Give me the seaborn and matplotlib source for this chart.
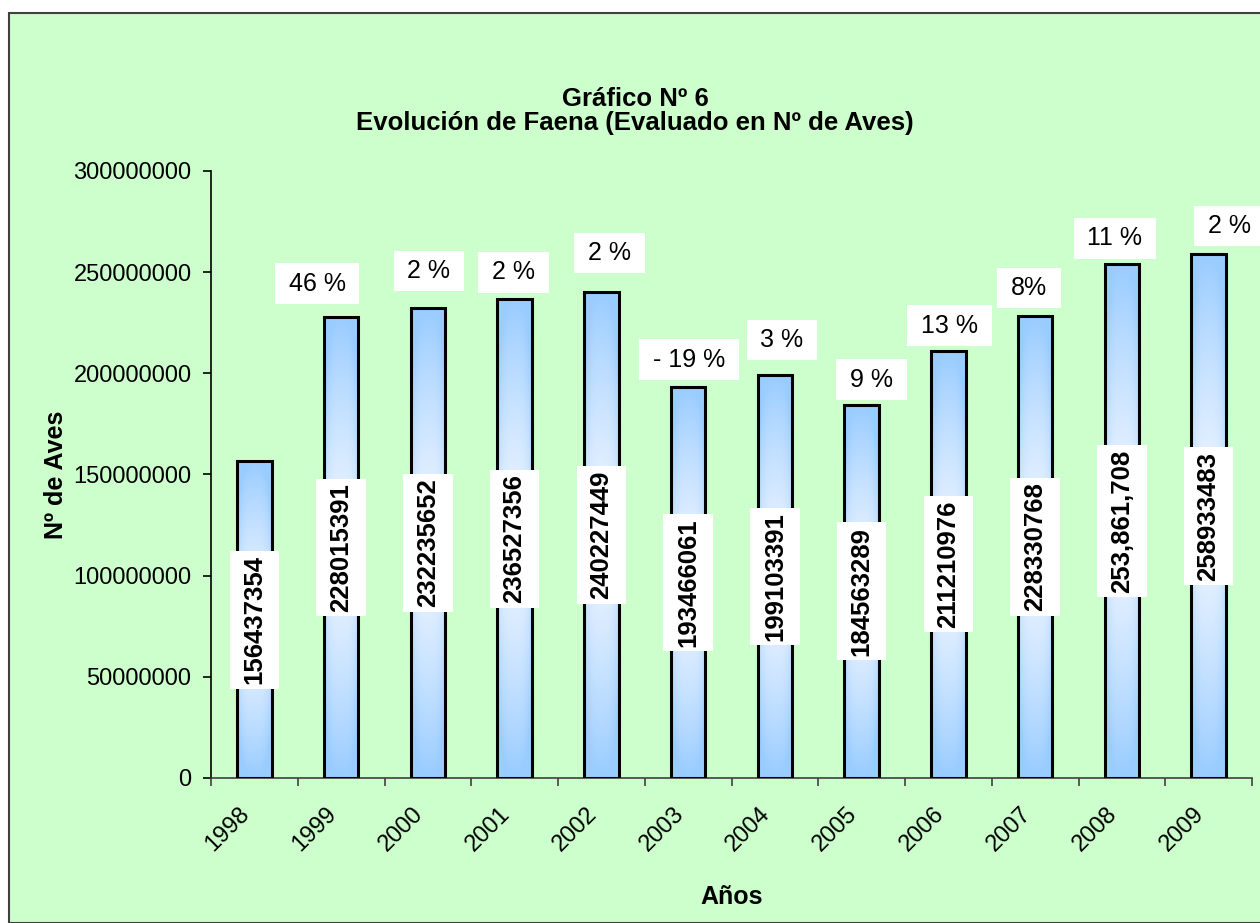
import matplotlib
matplotlib.use('Agg')
import numpy as np
import pandas as pd
import matplotlib.pyplot as plt
import seaborn as sns
from matplotlib.patches import Rectangle
from matplotlib.path import Path
from matplotlib.ticker import FixedLocator
from matplotlib import font_manager

# datos del gráfico
anios = ['1998', '1999', '2000', '2001', '2002', '2003', '2004', '2005', '2006', '2007', '2008', '2009']
aves = [156437354, 228015391, 232235652, 236527356, 240227449, 193466061,
        199103391, 184563289, 211210976, 228330768, 253861708, 258933483]
etiquetas_aves = ['156437354', '228015391', '232235652', '236527356', '240227449', '193466061',
                  '199103391', '184563289', '211210976', '228330768', '253,861,708', '258933483']
variacion = ['', '46 %', '2 %', '2 %', '2 %', '- 19 %', '3 %', '9 %', '13 %', '8%', '11 %', '2 %']
yticks = [0, 50000000, 100000000, 150000000, 200000000, 250000000, 300000000]

# desplazamiento (px) de cada etiqueta de variación respecto del tope de la barra
desp_x = [0, -24, 1, -1, 8, 1, 7, 10, 1, -6, -7, 21]
desp_y = [0, 33, 37, 27, 39, 27, 35, 25, 25, 28, 26, 28]

df = pd.DataFrame({'anio': anios, 'aves': aves})

sns.set_theme(style="ticks")
plt.rcParams['font.family'] = ['Liberation Sans', 'DejaVu Sans']
plt.rcParams['text.color'] = 'black'
plt.rcParams['axes.labelcolor'] = 'black'
plt.rcParams['xtick.color'] = 'black'
plt.rcParams['ytick.color'] = 'black'

disponibles = {f.name for f in font_manager.fontManager.ttflist}
fuente_pct = ['Liberation Sans Narrow'] if 'Liberation Sans Narrow' in disponibles else ['Liberation Sans']

W, H = 1260, 923
fig = plt.figure(figsize=(W / 100, H / 100), dpi=100)
fig.patch.set_facecolor('white')

# marco exterior verde
fondo = Rectangle((9 / W, 0), 1.0, 1 - 13 / H, transform=fig.transFigure,
                  facecolor='#CCFFCC', edgecolor='#404040', linewidth=1.5, zorder=-10)
fig.patches.append(fondo)

ax = fig.add_axes([211 / W, 1 - 778 / H, (1252 - 211) / W, (778 - 171) / H])
ax.set_facecolor('none')
ax.set_zorder(1)

sns.barplot(data=df, x='anio', y='aves', ax=ax, width=0.4, color='#99CCFF',
            edgecolor='black', linewidth=2.2, zorder=3)

# degradado azul-blanco-azul dentro de cada barra
ny, nx = 200, 40
t = np.linspace(0, 1, ny)[:, None]
s = np.linspace(0, 1, nx)[None, :]
v = np.abs(t - 0.5) * 2
h = np.abs(s - 0.5) * 2
w = np.clip(0.03 + 0.97 * v ** 1.4 + 0.35 * h ** 3, 0, 1)
azul = np.array([153, 204, 255]) / 255
blanco = np.array([240, 246, 255]) / 255
grad = blanco[None, None, :] * (1 - w[..., None]) + azul[None, None, :] * w[..., None]

for p in ax.patches:
    x0, y0 = p.get_x(), p.get_y()
    im = ax.imshow(grad, extent=[x0, x0 + p.get_width(), y0, y0 + p.get_height()],
                   aspect='auto', zorder=2.5, origin='lower')
    im.set_clip_path(p)
    p.set_facecolor('none')

ax.set_xlim(-0.5, len(anios) - 0.5)
ax.set_ylim(0, 300000000)
ax.set_yticks(yticks)
ax.set_yticklabels([str(y) for y in yticks])


def hacer_caja(fx, fy):
    def caja(x0, y0, width, height, mutation_size):
        px = fx * mutation_size
        py = fy * mutation_size
        return Path([(x0 - px, y0 - py), (x0 + width + px, y0 - py),
                     (x0 + width + px, y0 + height + py), (x0 - px, y0 + height + py),
                     (x0 - px, y0 - py)], closed=True)
    return caja


# etiquetas de valor (verticales)
for i, (val, txt) in enumerate(zip(aves, etiquetas_aves)):
    ax.text(i, val / 2, txt, rotation=90, ha='center', va='center', fontsize=18.5,
            fontweight='bold', zorder=5,
            bbox=dict(facecolor='white', edgecolor='none', boxstyle=hacer_caja(0.17, 0.5)))

# etiquetas de variación porcentual
for i, (val, txt) in enumerate(zip(aves, variacion)):
    if not txt:
        continue
    ax.annotate(txt, xy=(i, val), xytext=(desp_x[i] * 0.72, desp_y[i] * 0.72),
                textcoords='offset points', family=fuente_pct,
                ha='center', va='center', fontsize=18, zorder=5, annotation_clip=False,
                bbox=dict(facecolor='white', edgecolor='none', boxstyle=hacer_caja(0.55, 0.33)))

# ejes
for lado in ['top', 'right']:
    ax.spines[lado].set_visible(False)
ax.spines['left'].set_linewidth(1.2)
ax.spines['left'].set_color('black')
ax.spines['bottom'].set_linewidth(1.2)
ax.spines['bottom'].set_color('#404040')

ax.tick_params(axis='y', labelsize=17, length=6, width=1.2, pad=8, direction='out')
ax.tick_params(axis='x', which='major', length=0, labelsize=17, pad=18)
ax.xaxis.set_minor_locator(FixedLocator(np.arange(-0.5, len(anios), 1.0)))
ax.tick_params(axis='x', which='minor', length=6, width=1.2, color='#404040', direction='out')
for lbl in ax.get_xticklabels():
    lbl.set_rotation(45)
    lbl.set_ha('right')

ax.set_xlabel('Años', fontsize=18, fontweight='bold')
ax.set_ylabel('Nº de Aves', fontsize=18, fontweight='bold')
ax.xaxis.set_label_coords(0.5, -(885 - 778) / (778 - 171))
ax.yaxis.set_label_coords(-(211 - 68) / (1252 - 211), 0.5)

fig.text(635 / W, 1 - 111 / H, 'Gráfico Nº 6\nEvolución de Faena (Evaluado en Nº de Aves)',
         ha='center', va='center', fontsize=18.5, fontweight='bold', linespacing=1.0)

fig.savefig('out.png', dpi=100)
